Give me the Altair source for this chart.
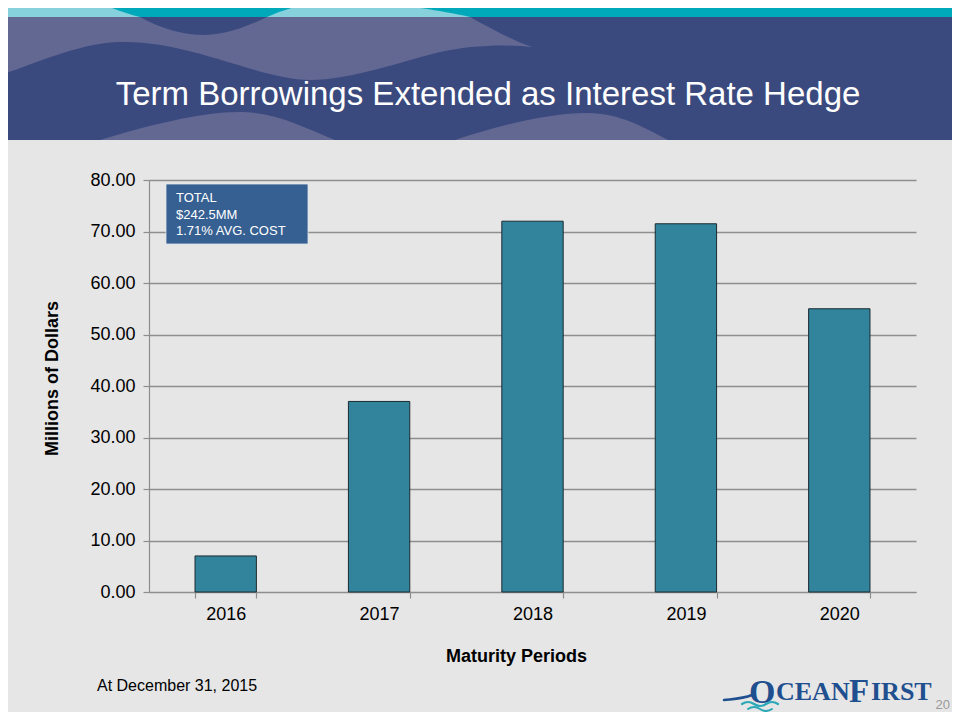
import altair as alt
import pandas as pd

# ---- chart values ----
years = ["2016", "2017", "2018", "2019", "2020"]
borrowings = [7.0, 37.0, 72.0, 71.5, 55.0]
y_ticks = [0, 10, 20, 30, 40, 50, 60, 70, 80]
title_text = "Term Borrowings Extended as Interest Rate Hedge"
box_lines = ["TOTAL", "$242.5MM", "1.71% AVG. COST"]
footnote = "At December 31, 2015"
x_title = "Maturity Periods"
y_title = "Millions of Dollars"
page_no = "20"

df = pd.DataFrame({"year": years, "value": borrowings})

# ---- layout (page pixels) ----
W, H = 767, 412
OX, OY = 149, 180          # page position of plot origin
PL, PT = OX - 8, OY - 8    # padding (page has 8px margin)
CW, CH = 944, 704
PR, PB = CW - PL - W, CH - PT - H

NAVY = "#3b4a7e"
LAV = "#636893"
TEAL = "#00a9ba"
LTEAL = "#86d1dc"
FONT = "Liberation Sans"

one = alt.Data(values=[{"k": 0}])


def rect(x1, y1, x2, y2, color, **kw):
    return alt.Chart(one).mark_rect(color=color, **kw).encode(
        x=alt.value(x1 - OX), x2=alt.value(x2 - OX),
        y=alt.value(y1 - OY), y2=alt.value(y2 - OY))


def shape(path, fill=None, stroke=None, sw=0):
    if fill:
        m = alt.Chart(one).mark_point(shape=path, size=4, opacity=1, filled=True,
                                      fill=fill, strokeWidth=0)
    else:
        m = alt.Chart(one).mark_point(shape=path, size=4, opacity=1, filled=False,
                                      stroke=stroke, strokeWidth=sw, strokeCap="round")
    return m.encode(x=alt.value(-OX), y=alt.value(-OY))


def text(s, x, y, size, color, font=FONT, weight="normal", align="left",
         baseline="alphabetic"):
    return alt.Chart(one).mark_text(text=s, fontSize=size, color=color, font=font,
                                    fontWeight=weight, align=align,
                                    baseline=baseline).encode(
        x=alt.value(x - OX), y=alt.value(y - OY))


layers = []
# header band
layers.append(rect(0, 0, 960, 140, NAVY))
# upper lavender wave
layers.append(shape(
    "M 0 17 L 140 17 C 160 28 182 35 205 35 C 230 34 250 25 267 17 "
    "L 470 17 C 492 29 512 40 532 47 C 505 44 470 45 440 52 "
    "C 400 62 350 80 310 80 C 260 80 190 40 120 42 C 80 43 40 62 0 75 Z",
    fill=LAV))
# bottom waves
layers.append(shape("M 100 140 C 150 125 200 112 240 112 C 275 112 305 128 335 140 Z", fill=LAV))
layers.append(shape("M 455 140 C 500 125 550 113 587 113 C 620 113 645 128 668 140 Z", fill=LAV))
# teal top band
layers.append(rect(0, 0, 960, 17, TEAL))
layers.append(shape("M 0 -2 L 90 -2 C 108 7 124 13 140 17 L 0 17 Z", fill=LTEAL))
layers.append(shape("M 267 17 C 285 9 310 1 343 -1 C 390 3 440 10 470 17 Z", fill=LTEAL))
# title
layers.append(text(title_text, 488, 105, 33, "white", align="center"))

# bars
bars = alt.Chart(df).mark_bar(color="#31849b", stroke="#1b2a30", strokeWidth=1).encode(
    x=alt.X("year:N", sort=years,
            scale=alt.Scale(paddingInner=0.6, paddingOuter=0.3),
            axis=alt.Axis(title=x_title, labelAngle=0, tickBand="extent",
                          labelFontSize=18, labelFont=FONT, labelColor="#000",
                          labelPadding=7, tickSize=6, tickColor="#8e8e8e",
                          domainColor="#8e8e8e", domainWidth=1.2, tickWidth=1.2,
                          titleFont=FONT, titleFontSize=18, titleFontWeight="bold",
                          titleColor="#000", titleX=516 - OX, titleY=656 - OY - H,
                          titleBaseline="middle", titleAlign="center")),
    y=alt.Y("value:Q", scale=alt.Scale(domain=[0, 80], nice=False),
            axis=alt.Axis(title=y_title, values=y_ticks, format=".2f",
                          labelFontSize=18, labelFont=FONT, labelColor="#000",
                          labelPadding=8, tickSize=6, tickColor="#8e8e8e",
                          domainColor="#8e8e8e", domainWidth=1.2, tickWidth=1.2,
                          gridColor="#8e8e8e", gridWidth=1.3,
                          titleFont=FONT, titleFontSize=18, titleFontWeight="bold",
                          titleColor="#000", titleX=52 - OX, titleY=378 - OY,
                          titleBaseline="middle", titleAlign="center", titleAngle=270)),
)
layers.append(bars)

# annotation box
layers.append(rect(166, 184, 308, 244, "#365f92", stroke="#dfe6ee", strokeWidth=0.8))
for i, line in enumerate(box_lines):
    layers.append(text(line, 176, 198 + i * 16.7, 13, "white", baseline="middle"))

# footer
layers.append(text(footnote, 97, 691, 16, "#000"))

# logo
LOGO = "#1f4f8f"
layers.append(text("O", 749, 703, 34, LOGO, font="Liberation Serif", weight="bold"))
layers.append(text("CEAN", 776, 700, 26, LOGO, font="Liberation Serif", weight="bold"))
layers.append(text("F", 849, 702, 33, LOGO, font="Liberation Serif", weight="bold"))
layers.append(text("IRST", 871, 700, 26, LOGO, font="Liberation Serif", weight="bold"))
layers.append(shape("M 724 700 C 732 699 742 699 752 695", stroke=LOGO, sw=2.5))
layers.append(shape("M 742 704 Q 748 700 754 704 Q 760 708 766 704 Q 772 700 778 704",
                    stroke="#2aa8b8", sw=2.2))
layers.append(shape("M 748 709 Q 754 705 760 709 Q 766 713 772 709",
                    stroke="#2aa8b8", sw=2))
layers.append(text(page_no, 950, 709, 13, "#9a9a9a", align="right"))

chart = alt.layer(*layers).properties(
    width=W, height=H,
    padding={"left": PL, "top": PT, "right": PR, "bottom": PB},
    autosize=alt.AutoSizeParams(type="none"),
    background="#e6e6e6",
).configure_view(strokeWidth=0)

chart.save("out.html", embed_options={"renderer": "svg", "actions": False})
